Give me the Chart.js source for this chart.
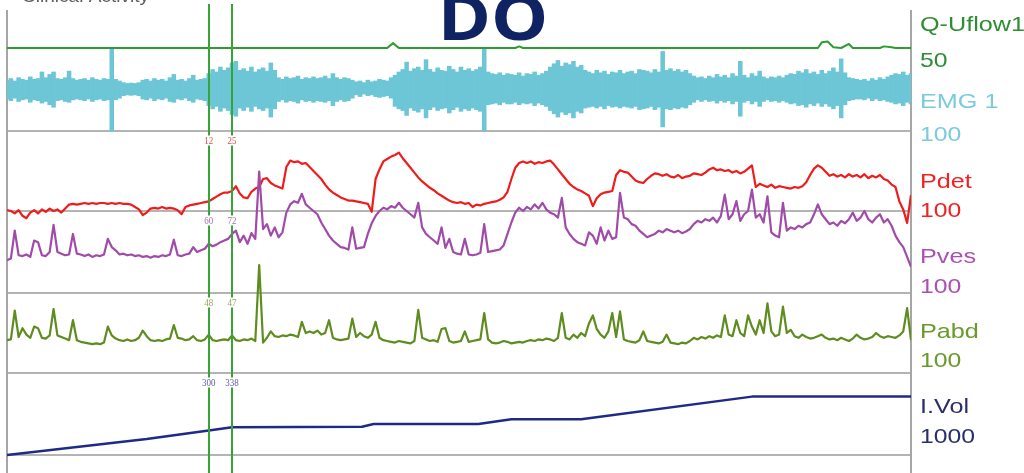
<!DOCTYPE html>
<html>
<head>
<meta charset="utf-8">
<script src="https://cdn.jsdelivr.net/npm/chart.js@4/dist/chart.umd.min.js"></script>
<style>
  html, body { margin: 0; padding: 0; background: #fff; overflow: hidden; }
  canvas { display: block; }
</style>
</head>
<body>
<canvas id="trace" width="1024" height="473"></canvas>
<script>
// ---- Recorded channels, one sample per second ----
const pdet = [
  1, 0, -3, 1, -6, -9, -2, 1, -3, 2,
  -1, 3, 0, 2, -2, 3, 8, 9, 8, 9,
  10, 9, 10, 9, 10, 10, 9, 10, 9, 10,
  9, 9, 8, 5, 2, -5, -2, 3, 4, 3,
  5, 3, 4, 3, 1, -4, 5, 7, 8, 9,
  10, 11, 12, 15, 18, 21, 23, 23, 25, 31,
  22, 17, 16, 24, 28, 30, 40, 41, 35, 32,
  30, 28, 55, 63, 61, 62, 59, 60, 55, 50,
  45, 40, 33, 27, 23, 20, 17, 15, 13, 13,
  12, 11, 10, 9, -1, 40, 52, 62, 65, 68,
  70, 73, 66, 60, 54, 48, 42, 37, 33, 29,
  26, 22, 19, 16, 13, 11, 10, 11, 9, 10,
  5, 8, 7, 9, 10, 11, 12, 14, 17, 24,
  40, 54, 60, 62, 60, 62, 59, 61, 60, 62,
  63, 58, 52, 46, 40, 34, 30, 27, 25, 22,
  19, 6, 16, 21, 23, 24, 25, 45, 51, 49,
  48, 43, 38, 36, 35, 40, 44, 47, 46, 44,
  46, 43, 42, 45, 41, 43, 44, 47, 46, 45,
  48, 52, 54, 51, 52, 50, 51, 48, 50, 47,
  49, 53, 57, 30, 34, 32, 30, 33, 29, 31,
  30, 29, 28, 30, 29, 31, 36, 45, 53, 57,
  54, 49, 44, 46, 43, 45, 42, 46, 43, 45,
  42, 46, 41, 44, 42, 45, 40, 38, 33, 30,
  12, 2, -15, 20
];

const pves = [
  40, 42, 76, 46, 45, 47, 44, 64, 62, 46,
  45, 50, 83, 50, 48, 46, 47, 72, 48, 47,
  45, 47, 44, 46, 45, 47, 66, 56, 52, 47,
  48, 46, 47, 45, 46, 44, 45, 43, 45, 44,
  46, 45, 47, 65, 46, 45, 47, 48, 56, 50,
  52, 54, 60, 57, 59, 62, 64, 66, 72, 76,
  62, 70, 60, 73, 66, 148, 78, 84, 70, 80,
  68, 74, 98, 108, 112, 110, 121, 108, 104, 100,
  96, 86, 78, 70, 64, 60, 56, 55, 53, 80,
  54, 55, 56, 72, 85, 94, 100, 104, 102, 106,
  104, 110, 104, 100, 96, 92, 110, 80, 72, 68,
  64, 60, 80, 55, 66, 50, 48, 47, 66, 47,
  46, 47, 49, 84, 50, 51, 52, 53, 58, 72,
  86, 98, 104, 100, 105, 102, 108, 103, 110, 102,
  98, 96, 92, 116, 80, 72, 66, 62, 60, 58,
  74, 70, 60, 80, 64, 76, 66, 68, 122, 92,
  90, 84, 82, 76, 72, 68, 70, 72, 76, 74,
  78, 76, 74, 76, 73, 75, 78, 84, 88, 86,
  90, 88, 92, 86, 94, 120, 90, 96, 112, 88,
  96, 100, 126, 92, 96, 86, 118, 74, 70, 68,
  110, 76, 80, 78, 82, 80, 84, 86, 96, 108,
  96, 90, 84, 86, 82, 88, 85, 90, 98, 88,
  92, 100, 90, 86, 92, 96, 86, 90, 82, 70,
  62, 56, 44, 32
];

const pabd = [
  41, 42, 78, 45, 56, 48, 44, 58, 56, 44,
  43, 47, 80, 47, 45, 43, 41, 66, 41, 39,
  38, 37, 36, 37, 36, 38, 58, 47, 43, 41,
  40, 42, 40, 41, 44, 53, 46, 41, 40, 41,
  40, 42, 43, 60, 44, 43, 41, 42, 46, 41,
  40, 42, 48, 41, 40, 41, 42, 41, 47, 41,
  40, 42, 41, 43, 40, 135, 38, 44, 52, 46,
  45, 47, 46, 48, 47, 45, 64, 50, 52, 50,
  53, 48, 50, 66, 44, 42, 41, 42, 43, 68,
  45, 50, 46, 44, 48, 64, 44, 41, 40, 39,
  38, 40, 39, 38, 37, 40, 79, 44, 42, 40,
  41, 39, 55, 56, 40, 38, 39, 40, 52, 39,
  40, 41, 42, 75, 42, 38, 37, 38, 40, 39,
  37, 38, 39, 38, 40, 41, 40, 42, 41, 43,
  42, 40, 44, 75, 44, 42, 48, 44, 50, 46,
  62, 72, 55, 48, 44, 52, 75, 45, 77, 42,
  40, 39, 38, 41, 52, 40, 39, 38, 37, 39,
  48, 38, 37, 36, 38, 37, 40, 44, 42, 45,
  43, 46, 44, 47, 45, 72, 48, 46, 66, 50,
  46, 72, 58, 48, 66, 50, 87, 52, 46, 48,
  83, 50, 54, 46, 44, 48, 45, 43, 44, 46,
  48, 44, 42, 43, 41, 44, 42, 40, 43, 48,
  44, 42, 43, 45, 50, 46, 44, 46, 45, 44,
  47, 52, 81, 41
];

// EMG envelope per second: upper and lower excursion (µV)
const emgHigh = [
  24, 28, 22, 30, 26, 24, 32, 26, 28, 44,
  30, 38, 44, 28, 26, 30, 46, 28, 24, 26,
  28, 24, 30, 26, 24, 28, 26, 102, 26, 22,
  18, 16, 17, 16, 18, 24, 26, 22, 28, 24,
  26, 22, 30, 38, 24, 26, 22, 28, 36, 24,
  26, 28, 40, 50, 44, 56, 48, 54, 66, 70,
  48, 52, 46, 56, 44, 50, 54, 46, 66, 48,
  30, 26, 32, 28, 30, 34, 26, 30, 28, 32,
  28, 30, 34, 28, 40, 30, 26, 30, 28, 24,
  20, 22, 18, 24, 20, 22, 26, 24, 22, 30,
  36, 44, 50, 68, 46, 52, 56, 48, 74, 50,
  44, 54, 48, 46, 58, 50, 44, 56, 48, 52,
  46, 50, 56, 102, 44, 40, 38, 42, 36, 40,
  38, 36, 42, 34, 40, 38, 44, 36, 40, 46,
  56, 64, 72, 58, 66, 62, 70, 56, 60, 48,
  44, 40, 48, 42, 46, 38, 44, 42, 48, 40,
  44, 46, 40, 50, 48, 46, 42, 50, 44, 94,
  48, 52, 46, 50, 44, 48, 40, 34, 30, 32,
  28, 34, 30, 38, 32, 36, 30, 40, 34, 70,
  36, 30, 40, 34, 46, 32, 28, 32, 30, 34,
  30, 36, 40, 38, 46, 42, 50, 40, 44, 38,
  48, 40, 46, 54, 44, 76, 42, 30, 28, 26,
  24, 26, 22, 28, 24, 30, 26, 32, 36, 40,
  38, 44, 36, 40
];
const emgLow = [
  -22, -26, -20, -28, -24, -22, -30, -24, -26, -32,
  -28, -36, -42, -26, -24, -28, -30, -24, -22, -24,
  -26, -22, -28, -24, -22, -26, -24, -100, -24, -20,
  -14, -12, -13, -12, -14, -22, -24, -20, -26, -22,
  -24, -20, -28, -30, -22, -24, -20, -26, -30, -22,
  -24, -26, -38, -46, -40, -52, -44, -50, -60, -64,
  -44, -50, -42, -52, -40, -46, -50, -44, -66, -46,
  -28, -24, -30, -26, -28, -32, -24, -28, -26, -30,
  -26, -28, -30, -26, -38, -28, -24, -28, -26, -20,
  -12, -16, -10, -14, -12, -16, -18, -16, -14, -20,
  -40, -46, -50, -62, -44, -50, -54, -46, -68, -48,
  -42, -50, -46, -44, -56, -48, -42, -52, -46, -50,
  -44, -48, -52, -100, -36, -34, -32, -36, -30, -34,
  -34, -30, -36, -32, -34, -32, -38, -32, -36, -40,
  -50, -58, -66, -54, -60, -56, -68, -52, -56, -44,
  -42, -40, -44, -40, -46, -38, -42, -40, -44, -40,
  -42, -44, -40, -48, -46, -44, -40, -48, -42, -90,
  -46, -48, -44, -46, -42, -44, -36, -30, -24, -28,
  -24, -28, -26, -32, -26, -30, -26, -34, -28, -64,
  -30, -26, -34, -28, -40, -28, -24, -28, -26, -30,
  -26, -30, -34, -32, -38, -36, -42, -34, -38, -32,
  -40, -34, -40, -46, -38, -68, -36, -26, -24, -22,
  -22, -24, -20, -26, -22, -26, -24, -28, -30, -34,
  -32, -38, -30, -34
];

// Uroflow (ml/s) and infused volume (ml): value changes at these times (s)
const flowTimes  = [0, 98, 99.5, 101, 131, 132, 133, 209, 210, 211.5, 213, 215, 217, 218, 225, 226, 228, 229, 233];
const flowValues = [0, 0, 3, 0, 0, 1, 0, 0, 3.5, 4, 0.5, 0, 2.5, 0, 0, 1, 0.5, 0, 0];
const volTimes   = [0, 36, 52, 58, 91.5, 94.5, 121.5, 130, 148, 192, 233];
const volValues  = [0, 195, 300, 338, 345, 378, 378, 435, 435, 712, 712];

// Cursor marks (s)
const cursorTimes = [52, 58];

// Channel captions on the right
const channelNames  = ['Q-Uflow1', 'EMG 1', 'Pdet', 'Pves', 'Pabd', 'I.Vol'];
const channelRanges = ['50', '100', '100', '100', '100', '1000'];

// ---- Layout ----
const W = 1024, H = 473;
const FRAME_LEFT = 7, FRAME_RIGHT = 911;
// pixel rows of each channel's zero line and full-scale line
const bands = {
  yQ:    { zeroPx: 48,  fullPx: -33, full: 50 },
  yEmg:  { zeroPx: 90,  fullPx: 49,  full: 100 },
  yPdet: { zeroPx: 211, fullPx: 131, full: 100 },
  yPves: { zeroPx: 293, fullPx: 211, full: 100 },
  yPabd: { zeroPx: 373, fullPx: 293, full: 100 },
  yVol:  { zeroPx: 455, fullPx: 373, full: 1000 }
};
const colors = {
  q: '#2f9b33', emg: '#6cc6d6', pdet: '#ee1c1c', pves: '#a04aa9',
  pabd: '#5e8c1f', vol: '#1f2a86', cursor: '#35a535', grid: '#b4b4b4', frame: '#a6a6a6'
};
const captionColors = ['#2f8d33', '#7ccbdc', '#ef2323', '#ad4fb4', '#689a2c', '#2a2f6c'];
const captionNameY  = [31, 108, 188, 263, 338, 413];
const captionRangeY = [67, 141, 217, 293, 367, 443];

function bandRange(b) {
  const perPx = b.full / (b.zeroPx - b.fullPx);
  return { min: -(H - b.zeroPx) * perPx, max: b.full + b.fullPx * perPx };
}
function hiddenAxis(id) {
  const r = bandRange(bands[id]);
  return { type: 'linear', display: false, min: r.min, max: r.max };
}
const seq = arr => arr.map((v, i) => ({ x: i, y: v }));
const pairs = (xs, ys) => xs.map((x, i) => ({ x, y: ys[i] }));

function valueAt(points, t) {
  for (let i = 0; i < points.length - 1; i++) {
    const a = points[i], b = points[i + 1];
    if (t === a.x) return a.y;
    if (t > a.x && t < b.x) return a.y + (b.y - a.y) * (t - a.x) / (b.x - a.x);
  }
  return points[points.length - 1].y;
}

function scaledText(ctx, text, x, y, font, color, sx, align) {
  ctx.save();
  ctx.translate(x, y);
  ctx.scale(sx, 1);
  ctx.font = font;
  ctx.fillStyle = color;
  ctx.textAlign = align || 'left';
  ctx.textBaseline = 'alphabetic';
  ctx.fillText(text, 0, 0);
  ctx.restore();
}

const lineStyle = (color, width) => ({
  type: 'line', borderColor: color, borderWidth: width, pointRadius: 0,
  fill: false, tension: 0, borderJoinStyle: 'round'
});

const pdetPts = seq(pdet), pvesPts = seq(pves), pabdPts = seq(pabd);
const volPts = pairs(volTimes, volValues);

const tracePlugin = {
  id: 'traceFrame',
  beforeDatasetsDraw(chart) {
    const { ctx, chartArea: a, scales: s } = chart;
    ctx.save();
    ctx.strokeStyle = colors.grid;
    ctx.lineWidth = 2;
    const rows = [s.yPdet.getPixelForValue(100), s.yPdet.getPixelForValue(0),
                  s.yPves.getPixelForValue(0), s.yPabd.getPixelForValue(0), s.yVol.getPixelForValue(0)];
    rows.forEach(y => { ctx.beginPath(); ctx.moveTo(a.left, y); ctx.lineTo(a.right, y); ctx.stroke(); });
    ctx.strokeStyle = colors.frame;
    [a.left, a.right].forEach(x => { ctx.beginPath(); ctx.moveTo(x, 10); ctx.lineTo(x, H); ctx.stroke(); });
    ctx.restore();
  },
  afterDatasetsDraw(chart) {
    const { ctx, scales: s } = chart;
    ctx.save();
    ctx.strokeStyle = colors.cursor;
    ctx.lineWidth = 2;
    cursorTimes.forEach(t => {
      const x = Math.round(s.x.getPixelForValue(t));
      ctx.beginPath(); ctx.moveTo(x, 4); ctx.lineTo(x, H); ctx.stroke();
    });
    // cursor readouts under each channel's top line
    const readouts = [
      { pts: pdetPts, axis: s.yPdet, top: 100, color: '#e34c4f' },
      { pts: pvesPts, axis: s.yPves, top: 100, color: '#b06fb8' },
      { pts: pabdPts, axis: s.yPabd, top: 100, color: '#9aa25e' },
      { pts: volPts,  axis: s.yVol,  top: 1000, color: '#5b5bab' }
    ];
    ctx.font = "10px 'Liberation Serif'";
    readouts.forEach(r => {
      const yc = r.axis.getPixelForValue(r.top) + 9.5;
      cursorTimes.forEach(t => {
        const x = s.x.getPixelForValue(t);
        const txt = String(Math.round(valueAt(r.pts, t)));
        const w = ctx.measureText(txt).width * 0.9;
        ctx.fillStyle = '#fff';
        ctx.fillRect(x - w / 2 - 1, yc - 5, w + 2, 10);
        scaledText(ctx, txt, x, yc + 3.5, "10px 'Liberation Serif'", r.color, 0.9, 'center');
      });
    });
    ctx.restore();
  },
  afterDraw(chart) {
    const { ctx } = chart;
    channelNames.forEach((name, i) => {
      scaledText(ctx, name, 920, captionNameY[i], "21px 'Liberation Sans'", captionColors[i], 1.2);
      scaledText(ctx, channelRanges[i], 920, captionRangeY[i], "21px 'Liberation Sans'", captionColors[i], 1.18);
    });
    scaledText(ctx, 'DO', 493, 40, "bold 62px 'Open Sans'", '#0f2262', 1.16, 'center');
    scaledText(ctx, 'Clinical Activity', 22, 2, "17px 'Liberation Sans'", '#5d5d5d', 1.12);
  }
};

new Chart(document.getElementById('trace'), {
  type: 'line',
  data: {
    datasets: [
      Object.assign(lineStyle(colors.vol, 2.5), { label: 'I.Vol', data: volPts, yAxisID: 'yVol' }),
      Object.assign(lineStyle(colors.pabd, 2.2), { label: 'Pabd', data: pabdPts, yAxisID: 'yPabd' }),
      Object.assign(lineStyle(colors.pves, 2.2), { label: 'Pves', data: pvesPts, yAxisID: 'yPves' }),
      Object.assign(lineStyle(colors.pdet, 2.2), { label: 'Pdet', data: pdetPts, yAxisID: 'yPdet' }),
      Object.assign(lineStyle(colors.q, 2), { label: 'Q-Uflow1', data: pairs(flowTimes, flowValues), yAxisID: 'yQ' }),
      {
        type: 'bar', label: 'EMG 1', yAxisID: 'yEmg',
        data: emgHigh.map((h, i) => ({ x: i, y: [emgLow[i], h] })),
        backgroundColor: colors.emg, borderWidth: 0,
        barPercentage: 1, categoryPercentage: 1, grouped: false
      }
    ]
  },
  options: {
    responsive: false,
    animation: false,
    devicePixelRatio: 1,
    events: [],
    layout: { padding: { left: FRAME_LEFT, right: W - FRAME_RIGHT, top: 0, bottom: 0 } },
    plugins: { legend: { display: false }, tooltip: { enabled: false }, title: { display: false } },
    scales: {
      x: { type: 'linear', display: false, min: 0, max: pdet.length - 1, offset: false },
      yQ: hiddenAxis('yQ'),
      yEmg: hiddenAxis('yEmg'),
      yPdet: hiddenAxis('yPdet'),
      yPves: hiddenAxis('yPves'),
      yPabd: hiddenAxis('yPabd'),
      yVol: hiddenAxis('yVol')
    }
  },
  plugins: [tracePlugin]
});
</script>
</body>
</html>
